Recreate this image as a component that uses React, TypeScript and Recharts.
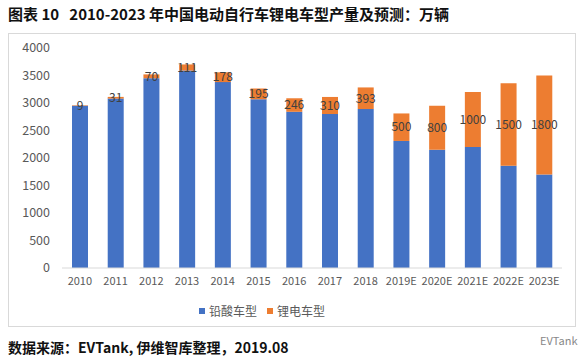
import { BarChart, Bar, XAxis, YAxis, LabelList } from 'recharts';

const years = ['2010', '2011', '2012', '2013', '2014', '2015', '2016', '2017', '2018', '2019E', '2020E', '2021E', '2022E', '2023E'];
const leadAcid = [2950, 3080, 3450, 3590, 3380, 3070, 2840, 2800, 2890, 2310, 2150, 2200, 1860, 1700];
const lithium = [9, 31, 70, 111, 178, 195, 246, 310, 393, 500, 800, 1000, 1500, 1800];
const yTicks = [0, 500, 1000, 1500, 2000, 2500, 3000, 3500, 4000];

const data = years.map((year, i) => ({ year, leadAcid: leadAcid[i], lithium: lithium[i] }));

const BLUE = '#4472C4';
const ORANGE = '#ED7D31';
const CJK = '"Noto Sans CJK SC", "Noto Sans", sans-serif';

export default function App() {
  return (
    <div style={{ position: 'absolute', left: 0, top: 0, width: 586, height: 360, background: '#fff', fontFamily: CJK }}>
      <div style={{ position: 'absolute', left: 8, top: 3, fontSize: 15, fontWeight: 700, color: '#111', whiteSpace: 'pre' }}>
        图表 10   2010-2023 年中国电动自行车锂电车型产量及预测：万辆
      </div>

      <div style={{ position: 'absolute', left: 8, top: 33, width: 568, height: 294, border: '1px solid #d9d9d9', boxSizing: 'border-box' }}>
        <BarChart
          width={566}
          height={292}
          data={data}
          margin={{ top: 14, right: 13, bottom: 38, left: 0 }}
          barSize={16}
        >
          <XAxis
            dataKey="year"
            interval={0}
            height={20}
            tickSize={0}
            tickMargin={9}
            axisLine={{ stroke: '#d9d9d9' }}
            tick={{ fontSize: 11, fill: '#595959', fontFamily: CJK }}
          />
          <YAxis
            width={53}
            domain={[0, 4000]}
            ticks={yTicks}
            axisLine={false}
            tickLine={false}
            tickSize={0}
            tickMargin={12}
            tick={{ fontSize: 12.5, fill: '#595959', fontFamily: CJK }}
          />
          <Bar dataKey="leadAcid" stackId="a" fill={BLUE} isAnimationActive={false} />
          <Bar dataKey="lithium" stackId="a" fill={ORANGE} isAnimationActive={false}>
            <LabelList dataKey="lithium" position="center" fill="#404040" fontSize={12} fontFamily={CJK} />
          </Bar>
        </BarChart>

        <div style={{ position: 'absolute', left: 190, top: 268, display: 'flex', alignItems: 'center', fontSize: 12, color: '#595959' }}>
          <span style={{ width: 6, height: 6, background: BLUE, marginRight: 4, display: 'inline-block' }} />
          <span>铅酸车型</span>
          <span style={{ width: 6, height: 6, background: ORANGE, marginLeft: 10, marginRight: 4, display: 'inline-block' }} />
          <span>锂电车型</span>
        </div>
      </div>

      <div style={{ position: 'absolute', left: 8, top: 337, fontSize: 14, fontWeight: 700, color: '#111', whiteSpace: 'pre' }}>
        数据来源：EVTank, 伊维智库整理，2019.08
      </div>
      <div style={{ position: 'absolute', left: 540, top: 332, fontSize: 11, color: '#888' }}>EVTank</div>
    </div>
  );
}
